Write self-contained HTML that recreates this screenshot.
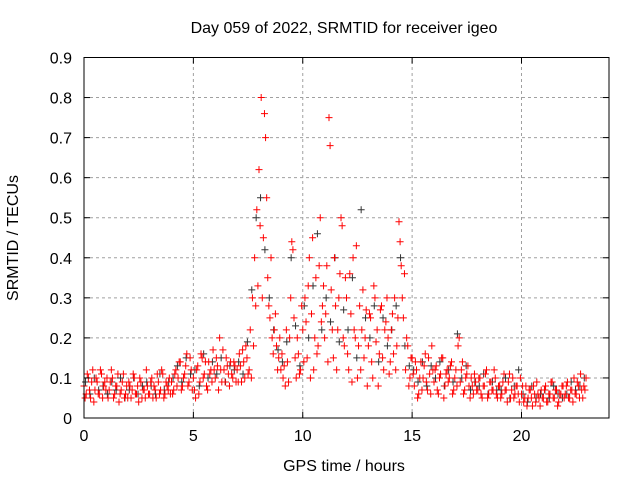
<!DOCTYPE html>
<html><head><meta charset="utf-8"><style>
html,body{margin:0;padding:0;background:#fff;}
svg text{font-family:"Liberation Sans",sans-serif;font-size:16px;fill:#000;}
</style></head><body>
<svg id="chart" width="640" height="480" xmlns="http://www.w3.org/2000/svg">
<text x="344" y="33" text-anchor="middle">Day 059 of 2022, SRMTID for receiver igeo</text>
<text x="344" y="471" text-anchor="middle">GPS time / hours</text>
<text transform="translate(18,238) rotate(-90)" text-anchor="middle">SRMTID / TECUs</text>
<g id="grid"></g>
<g id="marks"></g>
<rect x="84" y="57.5" width="525" height="360.5" fill="none" stroke="#000" stroke-width="1"/>
<g id="ticks"></g>
</svg>
<script>
const xTicks=[0,5,10,15,20];
const yTicks=[0,0.1,0.2,0.3,0.4,0.5,0.6,0.7,0.8,0.9];
const yTickLabels=["0","0.1","0.2","0.3","0.4","0.5","0.6","0.7","0.8","0.9"];
const redA=[.08,.06,.10,.05,.12,.07,.09,.06,.11,.08,.07,.05,.09,.10,.06,.08,.04,.07,.11,.06,.05,.08,.07,.10,.06,.04,.09,.07,.05,.08,.06,.10,.08,.05,.09,.07,.11,.06,.08,.10,.09,.07,.12,.10,.14,.08,.11,.16,.09,.12,.10,.05,.13,.09,.15,.11,.08,.14,.12,.17,.10,.13,.20,.09,.12,.15,.11,.14,.10,.13,.12,.16,.09,.14,.18,.11,.22,.30,.40,.52,.62,.80,.45,.70,.35,.25,.20,.22,.18,.15,.12,.10,.08,.14,.20,.44,.25,.10,.16,.12,.22,.30,.15,.40,.26,.12,.35,.18,.50,.28,.20,.38,.75,.32,.15,.28,.22,.36,.48,.18,.30,.12,.26,.40,.20,.10,.28,.22,.15,.27,.18,.25,.10,.30,.22,.16,.28,.12,.24,.20,.14,.26,.30,.18,.49,.38,.25,.12,.18,.10,.15,.08,.12,.06,.14,.10,.16,.07,.11,.18,.09,.13,.06,.11,.15,.08,.12,.10,.14,.07,.12,.18,.09,.14,.07,.11,.08,.10,.06,.09,.07,.10,.05,.08,.12,.06,.09,.07,.10,.05,.08,.06,.11,.07,.09,.05,.10,.06,.08,.04,.06,.04,.08,.05,.07,.03,.06,.09,.05,.07,.05,.08,.04,.06,.09,.05,.07,.04,.06,.08,.06,.09,.05,.07,.10,.06,.08,.11,.05,.07];
const redB=[.05,.11,.07,.09,.04,.10,.06,.12,.05,.09,.10,.07,.12,.05,.08,.11,.06,.09,.05,.08,.09,.05,.11,.06,.08,.10,.05,.07,.12,.06,.09,.05,.07,.11,.06,.12,.05,.09,.07,.06,.06,.11,.08,.14,.07,.10,.13,.08,.15,.07,.07,.12,.06,.16,.10,.14,.07,.11,.09,.12,.15,.07,.12,.17,.09,.13,.08,.11,.14,.09,.09,.13,.17,.10,.15,.12,.10,.18,.28,.33,.48,.30,.76,.55,.28,.40,.16,.26,.12,.20,.16,.13,.22,.09,.30,.42,.15,.20,.11,.28,.14,.24,.33,.10,.45,.20,.16,.38,.24,.33,.26,.14,.68,.22,.40,.12,.30,.50,.20,.35,.16,.36,.09,.22,.43,.18,.12,.32,.20,.08,.26,.14,.33,.19,.08,.27,.15,.22,.30,.11,.22,.16,.12,.25,.44,.30,.36,.20,.08,.15,.11,.14,.05,.10,.07,.13,.09,.15,.06,.12,.12,.07,.10,.15,.05,.11,.09,.13,.06,.10,.08,.20,.12,.06,.10,.13,.05,.08,.11,.07,.10,.06,.08,.11,.05,.09,.07,.12,.06,.08,.05,.09,.07,.04,.11,.07,.05,.08,.06,.10,.08,.05,.03,.07,.05,.08,.04,.06,.03,.05,.07,.04,.06,.09,.05,.07,.03,.06,.08,.05,.08,.05,.07,.04,.06,.09,.05,.07,.08,.10];
const black=[.09,.06,.10,.07,.08,.06,.09,.07,.10,.05,.07,.10,.06,.08,.09,.08,.06,.11,.07,.09,.10,.13,.09,.15,.11,.12,.08,.16,.10,.14,.11,.15,.09,.13,.12,.14,.11,.19,.32,.50,.55,.42,.30,.22,.17,.14,.19,.40,.23,.13,.28,.20,.33,.46,.22,.30,.24,.40,.19,.27,.22,.35,.15,.52,.25,.20,.28,.14,.25,.18,.22,.28,.40,.18,.13,.12,.09,.14,.08,.13,.10,.14,.08,.12,.09,.21,.10,.13,.07,.09,.08,.11,.06,.09,.07,.07,.10,.05,.08,.12,.06,.04,.08,.05,.06,.07,.05,.08,.06,.05,.06,.09,.07,.08,.10];
const X0=84,X1=609,Y0=418,Y1=57.5,XMAX=24,YMAX=0.9;
const sx=v=>X0+(X1-X0)*v/XMAX, sy=v=>Y0-(Y0-Y1)*v/YMAX;
const NS="http://www.w3.org/2000/svg";
function mk(tag,attrs,parent){const e=document.createElementNS(NS,tag);for(const k in attrs)e.setAttribute(k,attrs[k]);parent.appendChild(e);return e;}
const grid=document.getElementById('grid'),ticks=document.getElementById('ticks'),marks=document.getElementById('marks');
xTicks.forEach(t=>{const x=sx(t);
 if(t>0){const g=mk('line',{x1:x,x2:x,y1:Y0,y2:Y1,stroke:'#a0a0a0','stroke-dasharray':'3,3'},grid);
 
 }
 mk('line',{x1:x,x2:x,y1:Y0,y2:Y0-6,stroke:'#000'},ticks);mk('line',{x1:x,x2:x,y1:Y1,y2:Y1+6,stroke:'#000'},ticks);
 const l=mk('text',{x:x,y:Y0+23,'text-anchor':'middle'},ticks);l.textContent=t;
 
 });
yTicks.forEach((t,i)=>{const y=sy(t);
 if(t>0&&t<0.9){const g=mk('line',{x1:X0,x2:X1,y1:y,y2:y,stroke:'#a0a0a0','stroke-dasharray':'3,3'},grid);
 
 }
 mk('line',{x1:X0,x2:X0+6,y1:y,y2:y,stroke:'#000'},ticks);mk('line',{x1:X1,x2:X1-6,y1:y,y2:y,stroke:'#000'},ticks);
 const l=mk('text',{x:X0-12,y:y+6,'text-anchor':'end'},ticks);l.textContent=yTickLabels[i];
 
 });
function plus(t,v,col,name){const x=sx(t),y=sy(v);
 const p=mk('path',{d:`M${x-3.5},${y}h7M${x},${y-3.5}v7`,stroke:col,'stroke-width':1,fill:'none'},marks);
 
 }
black.forEach((v,i)=>plus(i*0.2+0.07,v,'#333','black-point'));
redA.forEach((v,i)=>plus(i*0.1,v,'#f00','red-point'));
redB.forEach((v,i)=>plus(i*0.1+0.05,v,'#f00','red-point'));
</script>
</body></html>
